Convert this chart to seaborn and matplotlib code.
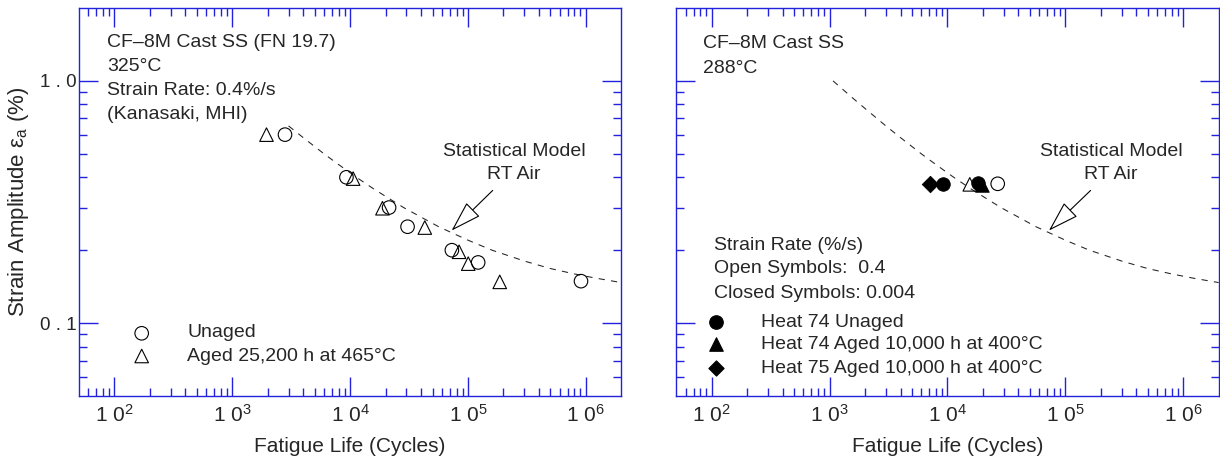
import matplotlib
matplotlib.use("Agg")
import matplotlib.pyplot as plt
import numpy as np
import pandas as pd
import seaborn as sns
from matplotlib.ticker import FixedLocator, FixedFormatter, NullFormatter

# ---- CF-8M cast SS (FN 19.7), 325 C, 0.4 %/s (Kanasaki, MHI) ----
unaged_cycles = [2800, 9300, 21400, 30700, 73000, 122000, 910000]
unaged_strain = [0.600, 0.400, 0.300, 0.250, 0.200, 0.178, 0.149]
aged_cycles = [1950, 10600, 18800, 43000, 84000, 100500, 186000]
aged_strain = [0.600, 0.395, 0.298, 0.248, 0.197, 0.176, 0.148]

# ---- CF-8M cast SS, 288 C ----
h74_unaged_open_cycles = [26700]
h74_unaged_open_strain = [0.376]
h74_aged_open_cycles = [15470]
h74_aged_open_strain = [0.374]
h74_unaged_closed_cycles = [9190, 18070]
h74_unaged_closed_strain = [0.376, 0.380]
h74_aged_closed_cycles = [19700]
h74_aged_closed_strain = [0.372]
h75_aged_closed_cycles = [7170]
h75_aged_closed_strain = [0.376]

# ---- statistical model, RT air ----
model_left_cycles = [3000, 4000, 6000, 8000, 11300, 16000, 28400, 56400,
                     100000, 160000, 305000, 500000, 780000, 1200000, 2000000]
model_left_strain = [0.652, 0.583, 0.500, 0.451, 0.400, 0.357, 0.300, 0.250,
                     0.220, 0.200, 0.180, 0.168, 0.160, 0.1535, 0.147]
model_right_cycles = [1070, 1500, 2000, 3000, 4000, 6000, 8000, 11300, 16000,
                      28400, 56400, 100000, 160000, 305000, 500000, 780000,
                      1200000, 2000000]
model_right_strain = [1.000, 0.866, 0.769, 0.652, 0.583, 0.500, 0.451, 0.400,
                      0.357, 0.300, 0.250, 0.220, 0.200, 0.180, 0.168, 0.160,
                      0.1535, 0.147]

x_major = [1e2, 1e3, 1e4, 1e5, 1e6]
x_major_labels = ["1 0$^{2}$", "1 0$^{3}$", "1 0$^{4}$", "1 0$^{5}$", "1 0$^{6}$"]
y_major = [0.1, 1.0]
y_major_labels = ["0 . 1", "1 . 0"]
y_minor = [0.06, 0.07, 0.08, 0.09, 0.2, 0.3, 0.4, 0.5, 0.6, 0.7, 0.8, 0.9]

sns.set_style("white")
plt.rcParams["font.family"] = ["Liberation Sans", "DejaVu Sans"]
plt.rcParams["mathtext.fontset"] = "custom"
plt.rcParams["mathtext.rm"] = "Liberation Sans"
plt.rcParams["mathtext.it"] = "Liberation Sans:italic"
plt.rcParams["mathtext.bf"] = "Liberation Sans:bold"

AXIS_BLUE = "#2222dd"
TXT = 14
MS = 95

fig = plt.figure(figsize=(12.2, 4.68), dpi=100)
ax_l = fig.add_axes([79 / 1220, 72 / 468, 542.3 / 1220, 388 / 468])
ax_r = fig.add_axes([676.3 / 1220, 72 / 468, 542.3 / 1220, 388 / 468])


def style_axes(ax, ylabel=True):
    ax.set_xscale("log")
    ax.set_yscale("log")
    ax.set_xlim(50, 2e6)
    ax.set_ylim(0.05, 2.0)
    x_minor = [k * 10.0 ** d for d in range(1, 7) for k in range(2, 10)
               if 50 < k * 10.0 ** d < 2e6]
    ax.xaxis.set_major_locator(FixedLocator(x_major))
    ax.xaxis.set_major_formatter(FixedFormatter(x_major_labels))
    ax.xaxis.set_minor_locator(FixedLocator(x_minor))
    ax.xaxis.set_minor_formatter(NullFormatter())
    ax.yaxis.set_major_locator(FixedLocator(y_major))
    ax.yaxis.set_minor_locator(FixedLocator(y_minor))
    ax.yaxis.set_minor_formatter(NullFormatter())
    if ylabel:
        ax.yaxis.set_major_formatter(FixedFormatter(y_major_labels))
    else:
        ax.yaxis.set_major_formatter(NullFormatter())
    ax.tick_params(which="both", direction="in", top=True, right=True,
                   bottom=True, left=True, color=AXIS_BLUE, width=1.0)
    ax.tick_params(which="major", length=13.7)
    ax.tick_params(which="minor", length=5.8)
    ax.tick_params(axis="x", which="major", labelsize=15, pad=6)
    ax.tick_params(axis="y", which="major", labelsize=13.5, pad=1.5)
    for s in ax.spines.values():
        s.set_color(AXIS_BLUE)
        s.set_linewidth(1.0)
        s.set_visible(True)
    ax.set_xlabel("Fatigue Life (Cycles)", fontsize=15, labelpad=8)


def model_curve(ax, cyc, eps):
    df = pd.DataFrame({"N": cyc, "eps": eps})
    sns.lineplot(data=df, x="N", y="eps", ax=ax, sort=False, estimator=None,
                 color="#222222", lw=0.75, dashes=False, linestyle=(0, (6, 6)),
                 legend=False)


def pts(ax, cyc, eps, marker, filled, size=MS):
    df = pd.DataFrame({"N": cyc, "eps": eps})
    if filled:
        sns.scatterplot(data=df, x="N", y="eps", ax=ax, marker=marker, s=size,
                        color="black", edgecolor="black", linewidth=0.6,
                        legend=False, zorder=3)
    else:
        sns.scatterplot(data=df, x="N", y="eps", ax=ax, marker=marker, s=size,
                        facecolors="none", edgecolor="black", linewidth=0.8,
                        legend=False, zorder=3)


def key(ax, x, y, marker, filled, size=MS):
    ax.scatter([x], [y], transform=ax.transAxes, marker=marker, s=size,
               facecolors="black" if filled else "none", edgecolors="black",
               linewidths=0.8, clip_on=False, zorder=4)


def model_label(ax, tail, tip):
    ax.text(245000, 0.49, "Statistical Model", ha="center", va="baseline",
            fontsize=TXT)
    ax.text(245000, 0.395, "RT Air", ha="center", va="baseline", fontsize=TXT)
    ax.annotate("", xy=tip, xytext=tail,
                arrowprops=dict(arrowstyle="-|>,head_length=0.9,head_width=0.28",
                                mutation_scale=22, fc="white", ec="black",
                                lw=0.8, shrinkA=0, shrinkB=0))


# ---------------- left panel ----------------
style_axes(ax_l)
model_curve(ax_l, model_left_cycles, model_left_strain)
pts(ax_l, unaged_cycles, unaged_strain, "o", False)
pts(ax_l, aged_cycles, aged_strain, "^", False)

for txt, yb in [("CF\u20138M Cast SS (FN 19.7)", 0.9003), ("325\u00b0C", 0.838),
                ("Strain Rate: 0.4%/s", 0.7755), ("(Kanasaki, MHI)", 0.713)]:
    ax_l.text(0.0516, yb, txt, transform=ax_l.transAxes, va="baseline",
              fontsize=TXT)

key(ax_l, 0.1156, 0.1616, "o", False)
key(ax_l, 0.1156, 0.1031, "^", False)
ax_l.text(0.1997, 0.1513, "Unaged", transform=ax_l.transAxes, va="baseline",
          fontsize=TXT)
ax_l.text(0.1997, 0.091, "Aged 25,200 h at 465\u00b0C", transform=ax_l.transAxes,
          va="baseline", fontsize=TXT)
model_label(ax_l, (162000, 0.353), (72600, 0.241))
ax_l.set_ylabel("Strain Amplitude ε$_{\\rm a}$ (%)", fontsize=16, labelpad=7)

# ---------------- right panel ----------------
style_axes(ax_r, ylabel=False)
model_curve(ax_r, model_right_cycles, model_right_strain)
pts(ax_r, h75_aged_closed_cycles, h75_aged_closed_strain, "D", True, 70)
pts(ax_r, h74_unaged_closed_cycles, h74_unaged_closed_strain, "o", True)
pts(ax_r, h74_aged_open_cycles, h74_aged_open_strain, "^", False)
pts(ax_r, h74_aged_closed_cycles, h74_aged_closed_strain, "^", True)
pts(ax_r, h74_unaged_open_cycles, h74_unaged_open_strain, "o", False)
ax_r.set_ylabel("")

for txt, yb in [("CF\u20138M Cast SS", 0.8961), ("288\u00b0C", 0.8332)]:
    ax_r.text(0.0487, yb, txt, transform=ax_r.transAxes, va="baseline",
              fontsize=TXT)
for txt, yb in [("Strain Rate (%/s)", 0.3763), ("Open Symbols:  0.4", 0.3162),
                ("Closed Symbols: 0.004", 0.2534)]:
    ax_r.text(0.0695, yb, txt, transform=ax_r.transAxes, va="baseline",
              fontsize=TXT)
key(ax_r, 0.0727, 0.1915, "o", True)
key(ax_r, 0.0727, 0.134, "^", True)
key(ax_r, 0.0727, 0.0729, "D", True, 60)
for txt, yb in [("Heat 74 Unaged", 0.1786),
                ("Heat 74 Aged 10,000 h at 400\u00b0C", 0.1211),
                ("Heat 75 Aged 10,000 h at 400\u00b0C", 0.0585)]:
    ax_r.text(0.1556, yb, txt, transform=ax_r.transAxes, va="baseline",
              fontsize=TXT)
model_label(ax_r, (164000, 0.353), (72600, 0.241))

fig.savefig("out.png", dpi=100)
